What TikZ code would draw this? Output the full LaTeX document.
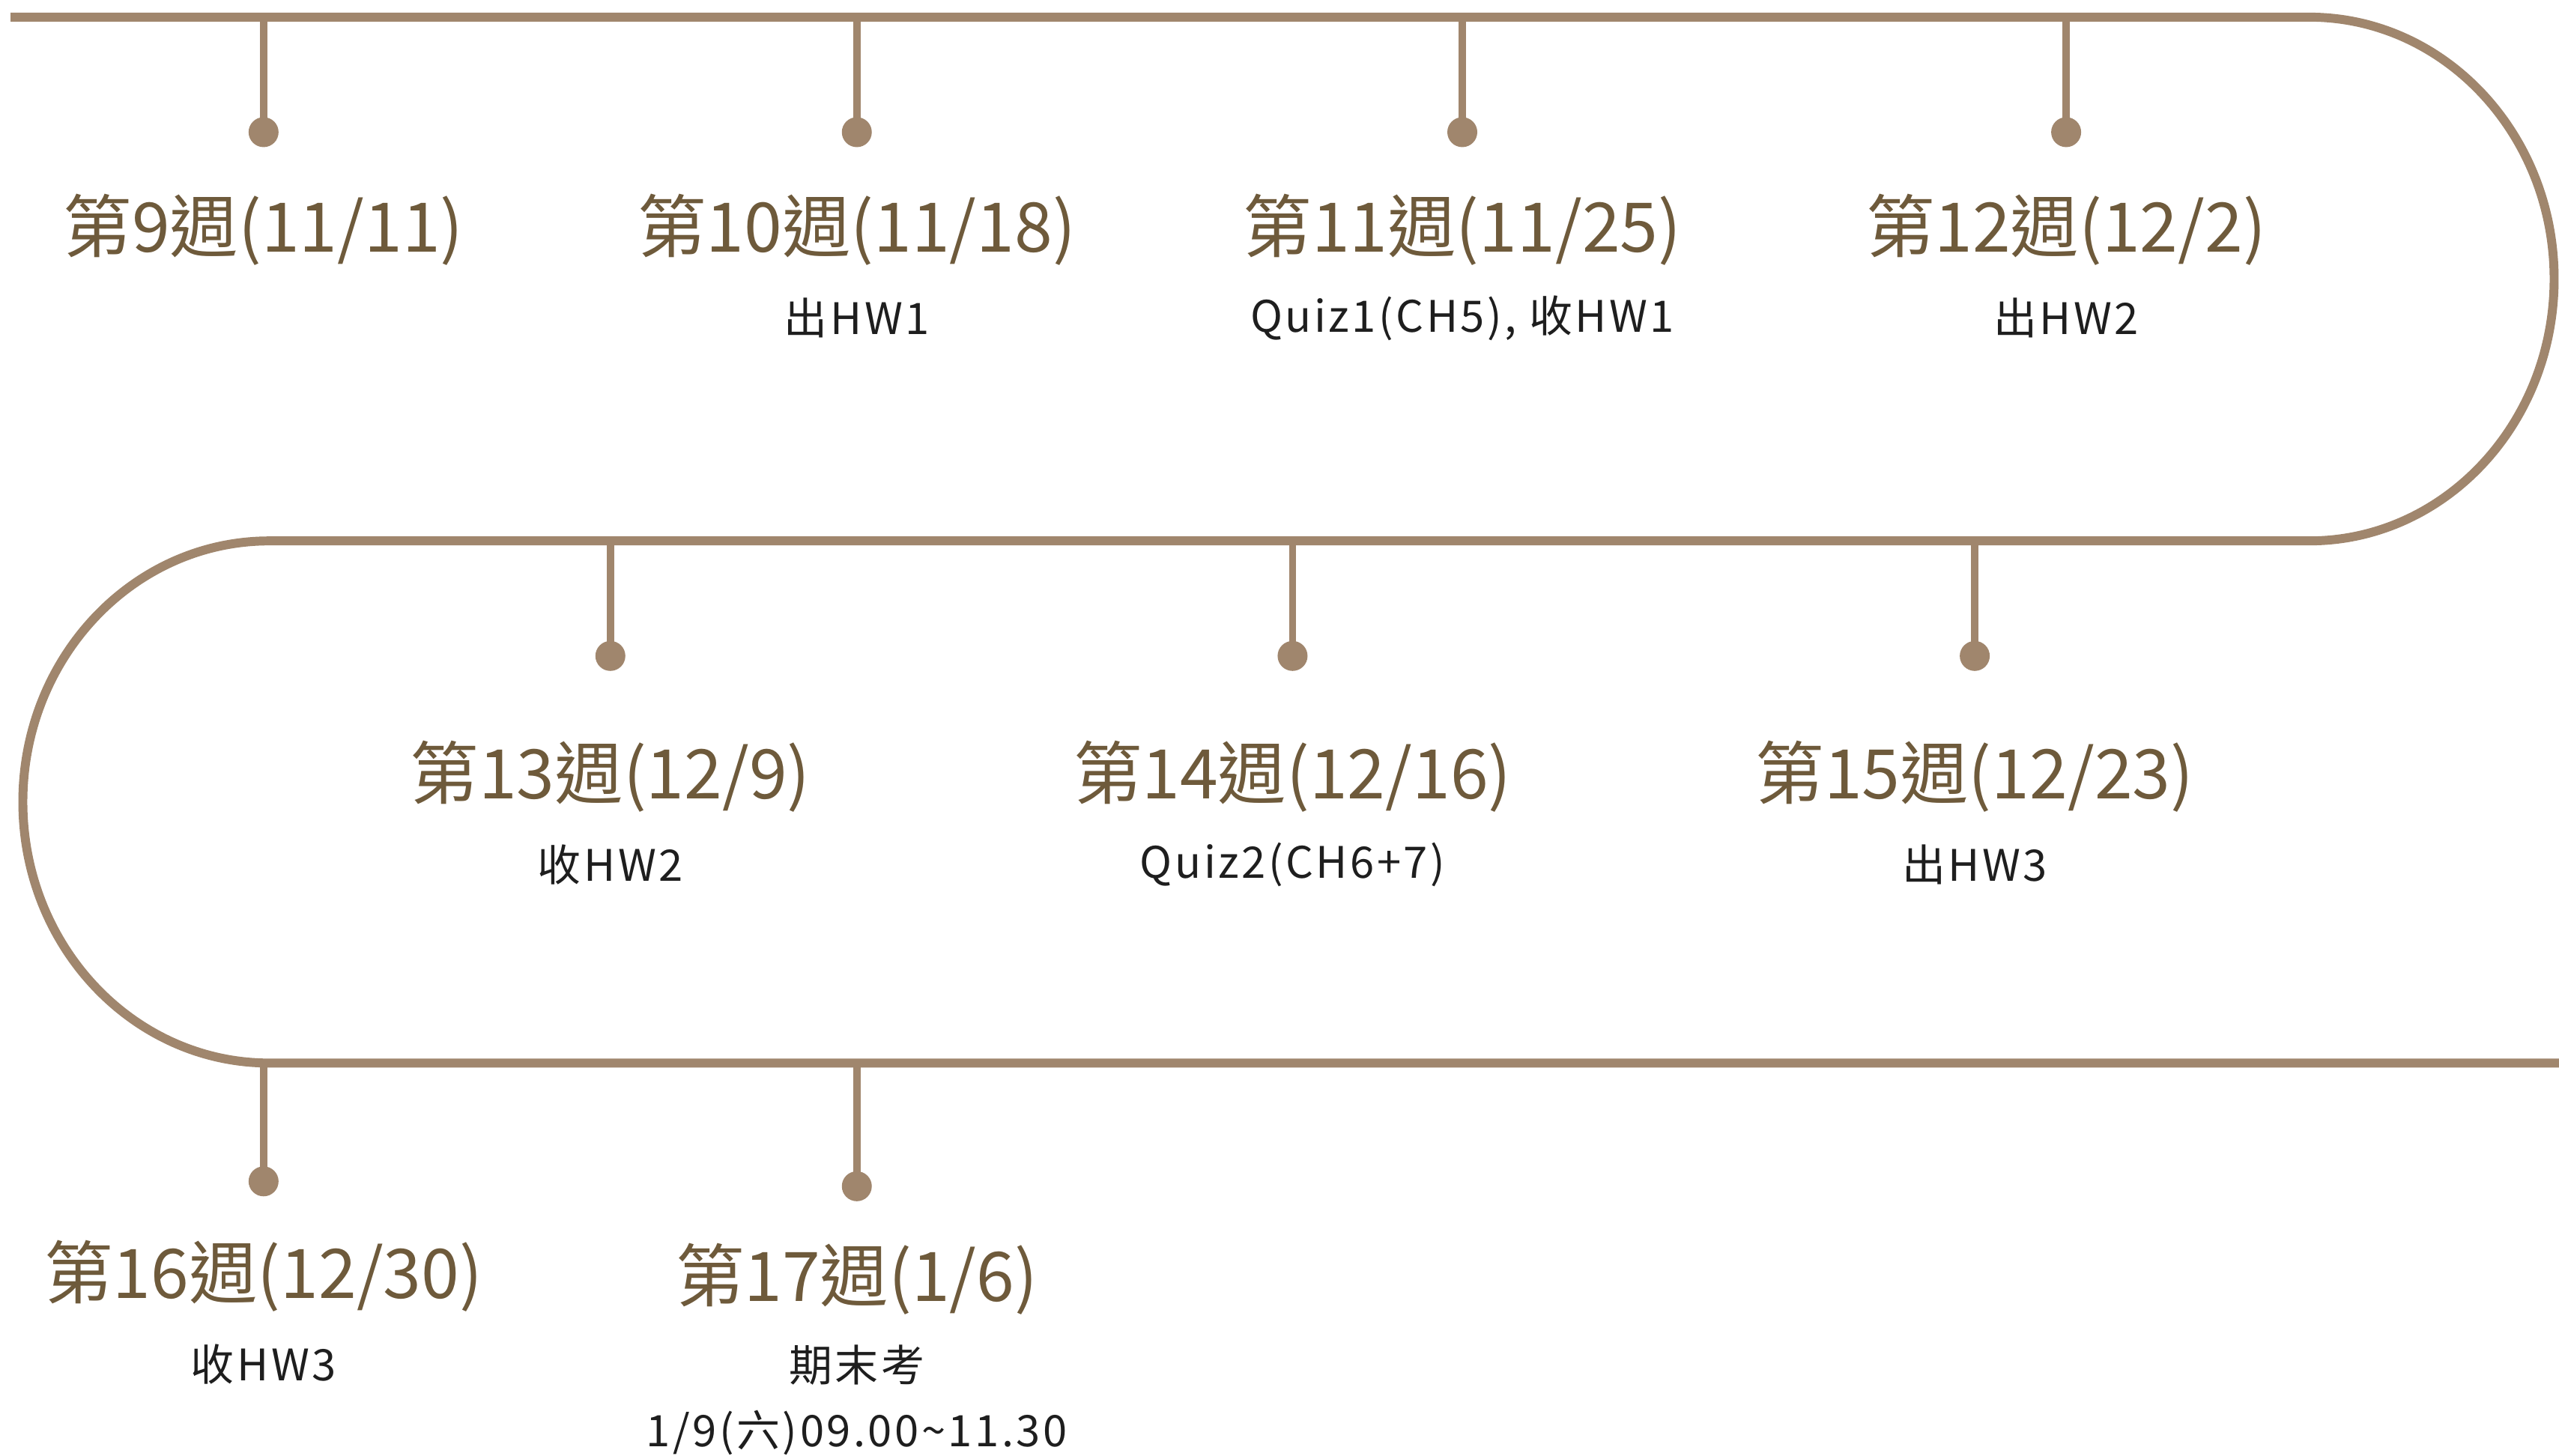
\documentclass[tikz,border=0pt]{standalone}
\usepackage{fontspec}
\setmainfont{Noto Sans CJK TC}
\newfontfamily\notefont[LetterSpace=6]{Noto Sans CJK TC}
\usetikzlibrary{calc}
\definecolor{timeline}{HTML}{A0866D}
\definecolor{weekbrown}{HTML}{6E5A3B}
\definecolor{notegray}{HTML}{1E1E1E}

\begin{document}
\begin{tikzpicture}[x=0.021786cm,y=-0.021786cm]
    \tikzset{line/.style={draw=timeline,line width=3.4pt}}
    \tikzset{tick/.style={draw=timeline,line width=2.8pt}}
    \tikzset{dot/.style={circle,fill=timeline,inner sep=0pt,minimum size=0.4cm}}
    \tikzset{week/.style={text=weekbrown,inner sep=0pt,font=\fontsize{26}{30}\selectfont}}
    \tikzset{note/.style={text=notegray,inner sep=0pt,align=center,font=\notefont\fontsize{16.5}{24.8}\selectfont}}

    \useasboundingbox (0,0) rectangle (1568,892);

    % the winding line
    \path[line] (6.5,10.5) -- (1415,10.5)
        arc[start angle=-90,end angle=90,x radius=150,y radius=160.5] -- (165,331.5)
        arc[start angle=-90,end angle=-270,x radius=151,y radius=160] -- (1568,651.5);

    % first row
    \coordinate (t9) at (161.5,10.5);
    \coordinate (t10) at (525,10.5);
    \coordinate (t11) at (896,10.5);
    \coordinate (t12) at (1266,10.5);
    \node[dot] (d9) at (161.5,81) {};
    \node[dot] (d10) at (525,81) {};
    \node[dot] (d11) at (896,81) {};
    \node[dot] (d12) at (1266,81) {};
    \path[tick] (t9) to (d9.center);
    \path[tick] (t10) to (d10.center);
    \path[tick] (t11) to (d11.center);
    \path[tick] (t12) to (d12.center);

    \node[week] (w9) at (161.5,141) {第9週(11/11)};
    \node[week] (w10) at (525,141) {第10週(11/18)};
    \node[note] (n10) at (525,195) {出HW1};
    \node[week] (w11) at (896,141) {第11週(11/25)};
    \node[note] (n11) at (896,195) {Quiz1(CH5), 收HW1};
    \node[week] (w12) at (1266,141) {第12週(12/2)};
    \node[note] (n12) at (1266,195) {出HW2};

    % second row
    \coordinate (t13) at (374,331.5);
    \coordinate (t14) at (792,331.5);
    \coordinate (t15) at (1210,331.5);
    \node[dot] (d13) at (374,402) {};
    \node[dot] (d14) at (792,402) {};
    \node[dot] (d15) at (1210,402) {};
    \path[tick] (t13) to (d13.center);
    \path[tick] (t14) to (d14.center);
    \path[tick] (t15) to (d15.center);

    \node[week] (w13) at (374,476) {第13週(12/9)};
    \node[note] (n13) at (374,530) {收HW2};
    \node[week] (w14) at (792,476) {第14週(12/16)};
    \node[note] (n14) at (792,530) {Quiz2(CH6+7)};
    \node[week] (w15) at (1210,476) {第15週(12/23)};
    \node[note] (n15) at (1210,530) {出HW3};

    % third row
    \coordinate (t16) at (161.5,651.5);
    \coordinate (t17) at (525,651.5);
    \node[dot] (d16) at (161.5,724) {};
    \node[dot] (d17) at (525,727) {};
    \path[tick] (t16) to (d16.center);
    \path[tick] (t17) to (d17.center);

    \node[week] (w16) at (161.5,782) {第16週(12/30)};
    \node[note] (n16) at (161.5,836) {收HW3};
    \node[week] (w17) at (525,784) {第17週(1/6)};
    \node[note] (n17) at (525,858) {期末考\\1/9(六)09.00\textasciitilde 11.30};
\end{tikzpicture}
\end{document}
